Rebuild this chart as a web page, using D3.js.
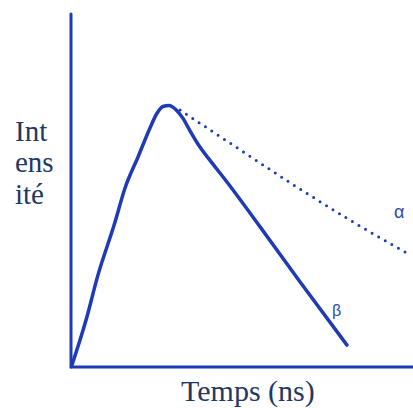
<!DOCTYPE html>
<html>
<head>
<meta charset="utf-8">
<script src="https://cdn.jsdelivr.net/npm/d3@7"></script>
<style>
  html, body { margin: 0; padding: 0; background: #fff; }
  svg { display: block; }
</style>
</head>
<body>
<svg id="chart" width="413" height="408"></svg>
<script>
// Time axis (ns) and intensity, in arbitrary units
const betaTime = [0.03, 0.44, 0.79, 1.26, 1.58, 1.96, 2.31, 2.51, 2.69, 2.87, 3.07, 3.27, 3.48, 3.77, 4.06, 4.56, 5.53, 6.70, 8.07];
const betaIntensity = [0.06, 1.33, 2.61, 4.02, 5.07, 5.95, 6.77, 7.18, 7.38, 7.41, 7.29, 7.05, 6.69, 6.23, 5.86, 5.24, 3.97, 2.41, 0.62];

const alphaTime = [3.19, 4.56, 6.70, 8.16, 9.82];
const alphaIntensity = [7.28, 6.40, 5.04, 4.16, 3.23];

const greekLabels = ["α", "β"];
const yLabelLines = ["Int", "ens", "ité"];
const xLabel = "Temps (ns)";

const svg = d3.select("#chart");
const margin = { left: 71, right: 0, top: 14, bottom: 41 };
const width = 413, height = 408;

const x = d3.scaleLinear().domain([0, 10]).range([margin.left, width - margin.right]);
const y = d3.scaleLinear().domain([0, 10]).range([height - margin.bottom, margin.top]);

const blue = "#1e3ab6";
const navy = "#1f3864";
const serif = "'Liberation Serif'";
const sans = "'Liberation Sans'";

// Axes: plain lines, no ticks
svg.append("line")
  .attr("x1", x(0)).attr("x2", x(0))
  .attr("y1", y(10)).attr("y2", y(0))
  .attr("stroke", blue).attr("stroke-width", 3).attr("stroke-linecap", "round");
svg.append("line")
  .attr("x1", x(0)).attr("x2", x(10))
  .attr("y1", y(0)).attr("y2", y(0))
  .attr("stroke", blue).attr("stroke-width", 3).attr("stroke-linecap", "round");

const line = d3.line()
  .x(d => x(d[0]))
  .y(d => y(d[1]))
  .curve(d3.curveMonotoneX);

// β: solid curve
svg.append("path")
  .datum(d3.zip(betaTime, betaIntensity))
  .attr("d", line)
  .attr("fill", "none")
  .attr("stroke", blue)
  .attr("stroke-width", 3.5)
  .attr("stroke-linecap", "round")
  .attr("stroke-linejoin", "round");

// α: dotted tail
svg.append("path")
  .datum(d3.zip(alphaTime, alphaIntensity))
  .attr("d", line)
  .attr("fill", "none")
  .attr("stroke", blue)
  .attr("stroke-width", 3)
  .attr("stroke-linecap", "round")
  .attr("stroke-dasharray", "0 7.6");

// Series labels
svg.append("text")
  .style("font-family", sans)
  .attr("x", 394).attr("y", 218)
  .attr("font-size", 18)
  .attr("fill", "#2a48c0")
  .text(greekLabels[0]);
svg.append("text")
  .style("font-family", sans)
  .attr("x", 332).attr("y", 316)
  .attr("font-size", 16)
  .attr("fill", "#2a48c0")
  .text(greekLabels[1]);

// Axis titles
svg.append("g")
  .selectAll("text")
  .data(yLabelLines)
  .join("text")
  .style("font-family", serif)
  .attr("x", 15)
  .attr("y", (d, i) => 140.5 + i * 31.8)
  .attr("font-size", 29)
  .attr("fill", navy)
  .text(d => d);

svg.append("text")
  .style("font-family", serif)
  .attr("x", 181).attr("y", 401)
  .attr("font-size", 30)
  .attr("fill", navy)
  .text(xLabel);
</script>
</body>
</html>
